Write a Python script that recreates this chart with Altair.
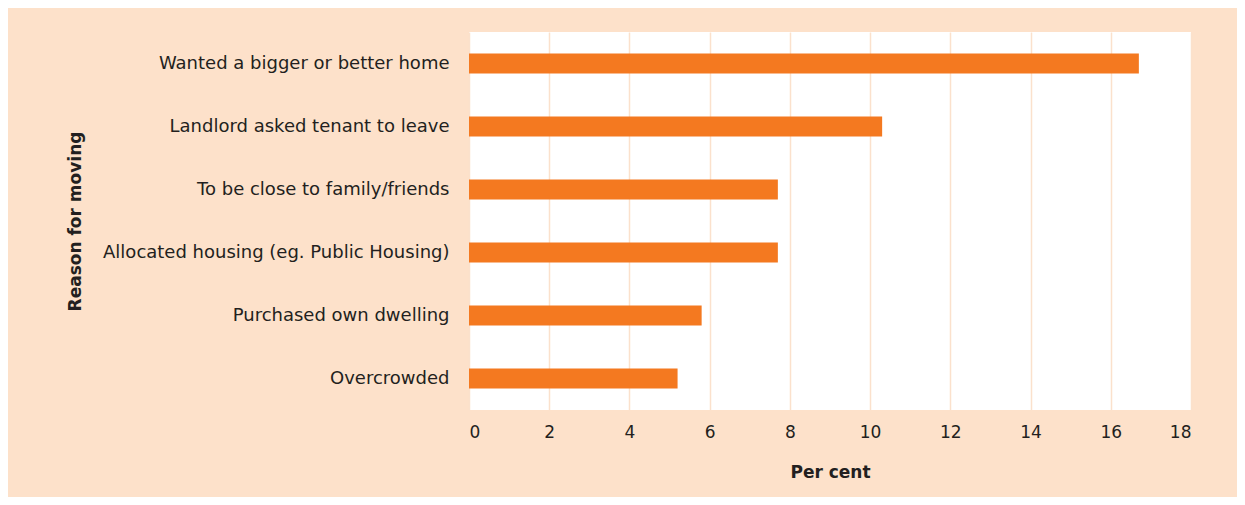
import altair as alt
import pandas as pd

reasons = [
    "Wanted a bigger or better home",
    "Landlord asked tenant to leave",
    "To be close to family/friends",
    "Allocated housing (eg. Public Housing)",
    "Purchased own dwelling",
    "Overcrowded",
]
percent = [16.7, 10.3, 7.7, 7.7, 5.8, 5.2]

df = pd.DataFrame({"reason": reasons, "pct": percent})

FONT = "DejaVu Sans"
TXT = "#231f20"

chart = (
    alt.Chart(df)
    .mark_bar(color="#f47920", size=20)
    .encode(
        x=alt.X(
            "pct:Q",
            scale=alt.Scale(domain=[0, 18], nice=False),
            axis=alt.Axis(
                title="Per cent",
                values=list(range(0, 19, 2)),
                grid=True,
                gridColor="#fbe1cc",
                gridWidth=1.5,
                domain=False,
                ticks=False,
                labelPadding=14,
                labelFontSize=17,
                labelFont=FONT,
                labelColor=TXT,
                titleFont=FONT,
                titleFontSize=17,
                titleFontWeight="bold",
                titleColor=TXT,
                titleY=62,
                titleBaseline="middle",
            ),
        ),
        y=alt.Y(
            "reason:N",
            sort=reasons,
            scale=alt.Scale(paddingInner=0.68, paddingOuter=0.34),
            axis=alt.Axis(
                title="Reason for moving",
                domain=False,
                ticks=False,
                grid=False,
                labelPadding=20,
                labelFontSize=18,
                labelFont=FONT,
                labelColor=TXT,
                labelLimit=400,
                titleFont=FONT,
                titleFontSize=17,
                titleFontWeight="bold",
                titleColor=TXT,
                titleX=-394,
                titleY=189,
                titleAlign="center",
                titleBaseline="middle",
                titleAngle=-90,
            ),
        ),
    )
    .properties(
        width=722,
        height=378,
        background="#fde1ca",
        autosize=alt.AutoSizeParams(type="none"),
        padding={"left": 461, "top": 24, "right": 46, "bottom": 87},
    )
    .configure_view(fill="white", stroke=None)
)

chart.save("out.html", embed_options={"renderer": "svg", "actions": False})
